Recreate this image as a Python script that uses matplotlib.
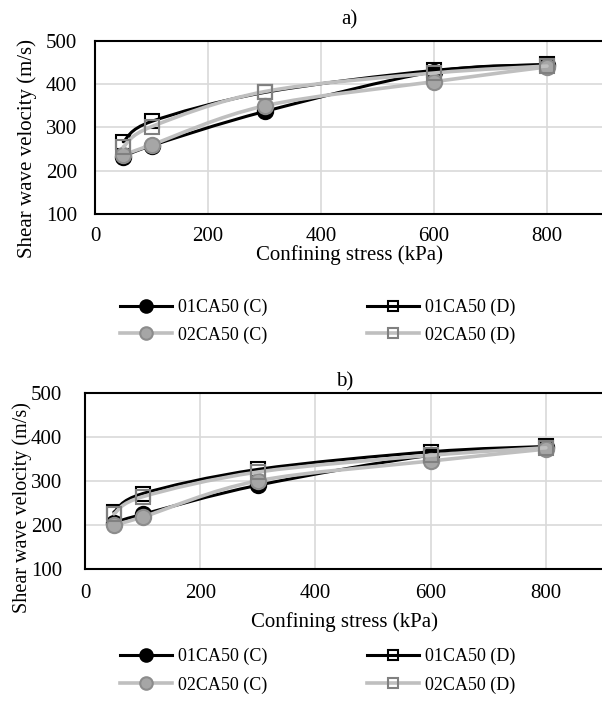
import numpy as np
import matplotlib.pyplot as plt
from matplotlib.path import Path
from matplotlib.patches import PathPatch
from matplotlib.lines import Line2D

plt.rcParams['font.family'] = ['Liberation Serif', 'DejaVu Serif']
plt.rcParams['font.size'] = 15

stress = [50, 100, 300, 600, 800]
labels = ['01CA50 (C)', '01CA50 (D)', '02CA50 (C)', '02CA50 (D)']

# panel a)
a_01C = [232, 258, 337, 429, 445]
a_01D = [267, 314, 381, 432, 446]
a_02C = [236, 260, 350, 406, 440]
a_02D = [255, 302, 383, 426, 442]

# panel b)
b_01C = [205, 224, 290, 358, 376]
b_01D = [229, 271, 326, 366, 378]
b_02C = [200, 218, 300, 345, 372]
b_02D = [225, 264, 320, 358, 375]

BLACK = '#000000'
GREY = '#bfbfbf'
styles = [
    dict(color=BLACK, marker='o', mfc=BLACK, mec=BLACK, lw=2.2, ms=11),
    dict(color=BLACK, marker='s', mfc='none', mec=BLACK, lw=2.2, ms=10),
    dict(color=GREY, marker='o', mfc='#a6a6a6', mec='#8c8c8c', lw=2.6, ms=11),
    dict(color=GREY, marker='s', mfc='none', mec='#808080', lw=2.6, ms=10),
]


def smooth_path(x, y):
    # excel-like smoothed line: catmull-rom as cubic bezier segments
    p = np.column_stack([x, y]).astype(float)
    verts = [p[0]]
    codes = [Path.MOVETO]
    n = len(p)
    for i in range(n - 1):
        p0 = p[i - 1] if i > 0 else p[i]
        p3 = p[i + 2] if i + 2 < n else p[i + 1]
        c1 = p[i] + (p[i + 1] - p0) / 6
        c2 = p[i + 1] - (p3 - p[i]) / 6
        verts += [c1, c2, p[i + 1]]
        codes += [Path.CURVE4] * 3
    return Path(verts, codes)


def draw_panel(ax, series, title, ypad, xpad, tpad, ylsize):
    for k, (vals, st) in enumerate(zip(series, styles)):
        patch = PathPatch(smooth_path(stress, vals), fill=False, edgecolor=st['color'],
                          lw=st['lw'], zorder=3 + 2 * k, capstyle='round')
        ax.add_patch(patch)
        ax.plot(stress, vals, ls='none', marker=st['marker'], ms=st['ms'],
                mfc=st['mfc'], mec=st['mec'], mew=1.5, zorder=4 + 2 * k)
    ax.set_xlim(0, 900)
    ax.set_ylim(100, 500)
    ax.set_xticks([0, 200, 400, 600, 800])
    ax.set_yticks([100, 200, 300, 400, 500])
    ax.grid(True, color='#d9d9d9', lw=1.2)
    ax.set_axisbelow(True)
    ax.tick_params(axis='y', length=0, labelsize=15, pad=ypad)
    ax.tick_params(axis='x', length=0, labelsize=15, pad=xpad)
    for s in ax.spines.values():
        s.set_linewidth(1.5)
        s.set_color('black')
    ax.set_title(title, fontsize=15, pad=tpad)
    ax.set_ylabel('Shear wave velocity (m/s)', fontsize=ylsize)
    ax.set_xlabel('Confining stress (kPa)', fontsize=15)


fig = plt.figure(figsize=(6.02, 7.02), dpi=100)
ax1 = fig.add_axes([95 / 602, 1 - 214 / 702, 508.5 / 602, 173 / 702])
ax2 = fig.add_axes([85 / 602, 1 - 569 / 702, 518.5 / 602, 176.3 / 702])

draw_panel(ax1, [a_01C, a_01D, a_02C, a_02D], 'a)', 13, 9.5, 12, 15)
draw_panel(ax2, [b_01C, b_01D, b_02C, b_02D], 'b)', 16.5, 11, 4.5, 14.5)
ax1.xaxis.set_label_coords(0.5, -0.18)
ax2.xaxis.set_label_coords(0.5, -0.245)
ax1.yaxis.set_label_coords(-0.114, 0.379)
ax2.yaxis.set_label_coords(-0.102, 0.346)

handles = [Line2D([], [], color=st['color'], lw=st['lw'], marker=st['marker'],
                  ms=9 if st['marker'] == 'o' else 7, mfc=st['mfc'], mec=st['mec'], mew=1.5)
           for st in styles]
order = [0, 2, 1, 3]
for ytop, lsp in [(299, 0.55), (648, 0.62)]:
    fig.legend([handles[i] for i in order], [labels[i] for i in order],
               loc='upper left', bbox_to_anchor=(120 / 602, 1 - ytop / 702), ncol=2,
               frameon=False, fontsize=13, handlelength=2.88, handletextpad=0.33,
               columnspacing=5.5, labelspacing=lsp, borderpad=0, borderaxespad=0)

fig.savefig('out.png', dpi=100)
